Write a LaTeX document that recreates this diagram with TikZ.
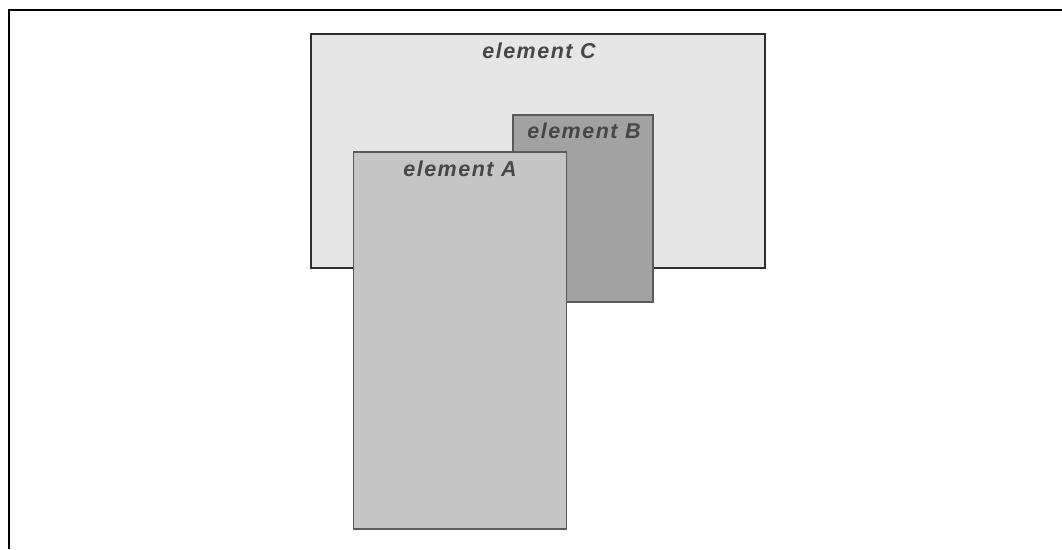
\documentclass[tikz,border=0pt]{standalone}
\usepackage{fontspec}
\setmainfont{Liberation Sans}
\newfontfamily\lblfont[LetterSpace=7]{Liberation Sans}
\definecolor{cfill}{HTML}{E6E6E6}
\definecolor{bfill}{HTML}{A2A2A2}
\definecolor{afill}{HTML}{C5C5C5}
\definecolor{cborder}{HTML}{2E2E2E}
\definecolor{abborder}{HTML}{5A5A5A}
\definecolor{lblcol}{HTML}{474747}
\tikzset{
  elbox/.style={rectangle, inner sep=0pt, outer sep=0pt, anchor=north west},
  lbl/.style={anchor=base, inner sep=0pt, text=lblcol,
    font=\lblfont\bfseries\itshape\fontsize{21.5}{25}\selectfont},
  frameline/.style={line width=2.5pt, draw=black}
}
\begin{document}
\begin{tikzpicture}[x=1pt,y=-1pt]
\useasboundingbox (0,0) rectangle (1062,549);
\coordinate (fb) at (9,549);
\coordinate (fc) at (9,10);
\coordinate (fr) at (1062,10);
\draw[frameline] (fb) -- (fc) -- (fr);
\node[elbox, fill=cfill, draw=cborder, line width=2.2pt, minimum width=454pt, minimum height=234pt] (C) at (311,34) {};
\node[lbl] (tC) at (539,58) {element C};
\node[elbox, fill=bfill, draw=abborder, line width=1.5pt, minimum width=140pt, minimum height=187pt] (B) at (513,115) {};
\node[lbl] (tB) at (584,138) {element B};
\node[elbox, fill=afill, draw=abborder, line width=1.5pt, minimum width=213pt, minimum height=377pt] (A) at (353.5,152) {};
\node[lbl] (tA) at (460,176) {element A};
\end{tikzpicture}
\end{document}
